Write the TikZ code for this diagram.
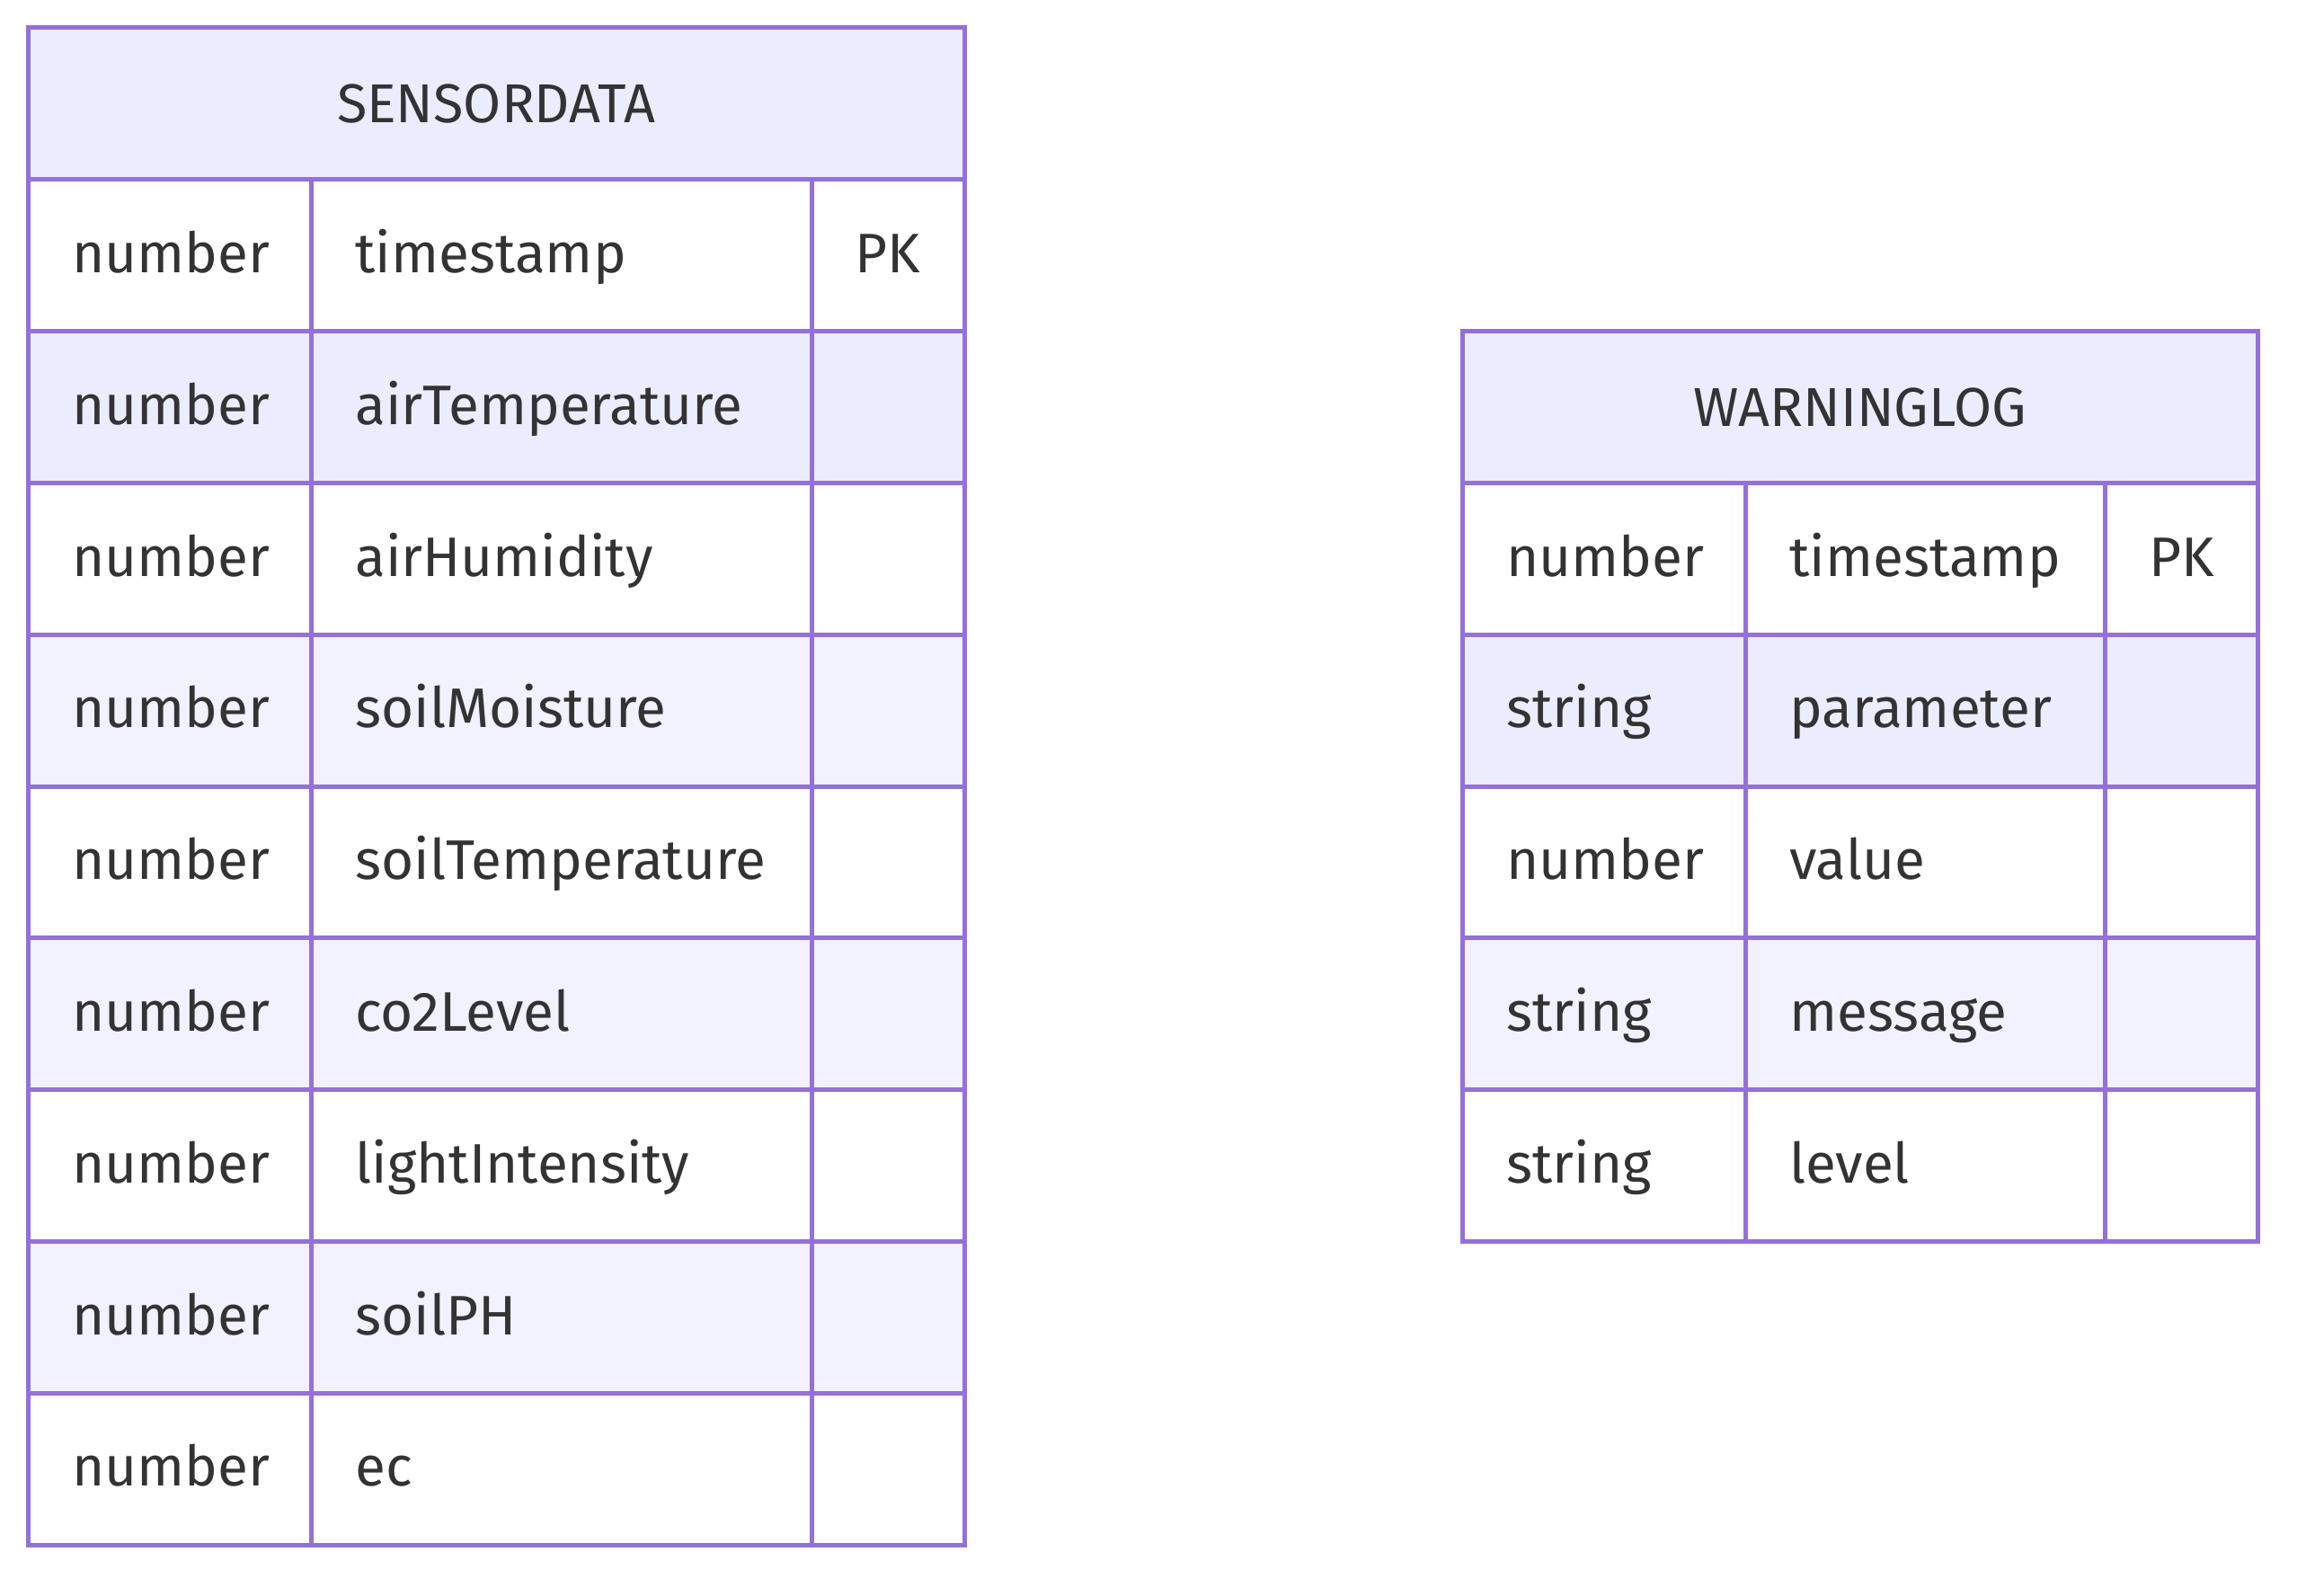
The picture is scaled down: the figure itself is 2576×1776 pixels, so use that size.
\documentclass[tikz,border=0pt]{standalone}
\usepackage{fontspec}
\setmainfont{Fira Sans}
\definecolor{erline}{HTML}{9370DB}
\definecolor{erhead}{HTML}{ECECFF}
\definecolor{errowA}{HTML}{ECECFF}
\definecolor{errowB}{HTML}{F1F1FF}
\definecolor{ertext}{HTML}{333333}
\begin{document}
\begin{tikzpicture}[x=0.5pt,y=-0.5pt,
  celltext/.style={anchor=mid west, inner sep=0pt, text=ertext, font=\fontsize{31pt}{36pt}\selectfont},
  headtext/.style={anchor=center, inner sep=0pt, text=ertext, font=\fontsize{30.5pt}{36pt}\selectfont},
  gridline/.style={draw=erline, line width=2.5pt, line cap=rect}]
\useasboundingbox (0,0) rectangle (2576,1776);
\pgfmathsetmacro{\rh}{168.8}
\pgfmathsetmacro{\yo}{31}
\pgfmathsetmacro{\dy}{14}
% ---------- SENSORDATA ----------
\fill[erhead] (31,\yo) rectangle (1073.5,{\yo+\rh});
\foreach \k/\fc in {1/white,2/errowA,3/white,4/errowB,5/white,6/errowB,7/white,8/errowB,9/white}{
  \fill[\fc] (31,{\yo+\k*\rh}) rectangle (1073.5,{\yo+(\k+1)*\rh});
}
\foreach \k in {1,...,9}{
  \draw[gridline] (31,{\yo+\k*\rh}) -- (1073.5,{\yo+\k*\rh});
}
\draw[gridline] (346,{\yo+\rh}) -- (346,{\yo+10*\rh});
\draw[gridline] (903,{\yo+\rh}) -- (903,{\yo+10*\rh});
\draw[gridline] (31,\yo) rectangle (1073.5,{\yo+10*\rh});
\node[headtext] (sdHead) at (552,{\yo+0.5*\rh}) {SENSORDATA};
\foreach \k/\ty/\nm in {1/number/timestamp,2/number/airTemperature,3/number/airHumidity,4/number/soilMoisture,5/number/soilTemperature,6/number/co2Level,7/number/lightIntensity,8/number/soilPH,9/number/ec}{
  \node[celltext] (sdType\k) at (80,{\yo+(\k+0.5)*\rh+\dy}) {\ty};
  \node[celltext] (sdName\k) at (395,{\yo+(\k+0.5)*\rh+\dy}) {\nm};
}
\node[celltext] (sdKey1) at (951,{\yo+1.5*\rh+\dy}) {PK};
% ---------- WARNINGLOG ----------
\fill[erhead] (1627,{\yo+2*\rh}) rectangle (2512,{\yo+3*\rh});
\foreach \k/\fc in {3/white,4/errowA,5/white,6/errowB,7/white}{
  \fill[\fc] (1627,{\yo+\k*\rh}) rectangle (2512,{\yo+(\k+1)*\rh});
}
\foreach \k in {3,...,7}{
  \draw[gridline] (1627,{\yo+\k*\rh}) -- (2512,{\yo+\k*\rh});
}
\draw[gridline] (1942,{\yo+3*\rh}) -- (1942,{\yo+8*\rh});
\draw[gridline] (2342,{\yo+3*\rh}) -- (2342,{\yo+8*\rh});
\draw[gridline] (1627,{\yo+2*\rh}) rectangle (2512,{\yo+8*\rh});
\node[headtext] (wlHead) at (2069.5,{\yo+2.5*\rh}) {WARNINGLOG};
\foreach \k/\ty/\nm in {3/number/timestamp,4/string/parameter,5/number/value,6/string/message,7/string/level}{
  \node[celltext] (wlType\k) at (1676,{\yo+(\k+0.5)*\rh+\dy}) {\ty};
  \node[celltext] (wlName\k) at (1991,{\yo+(\k+0.5)*\rh+\dy}) {\nm};
}
\node[celltext] (wlKey3) at (2391,{\yo+3.5*\rh+\dy}) {PK};
\end{tikzpicture}
\end{document}
